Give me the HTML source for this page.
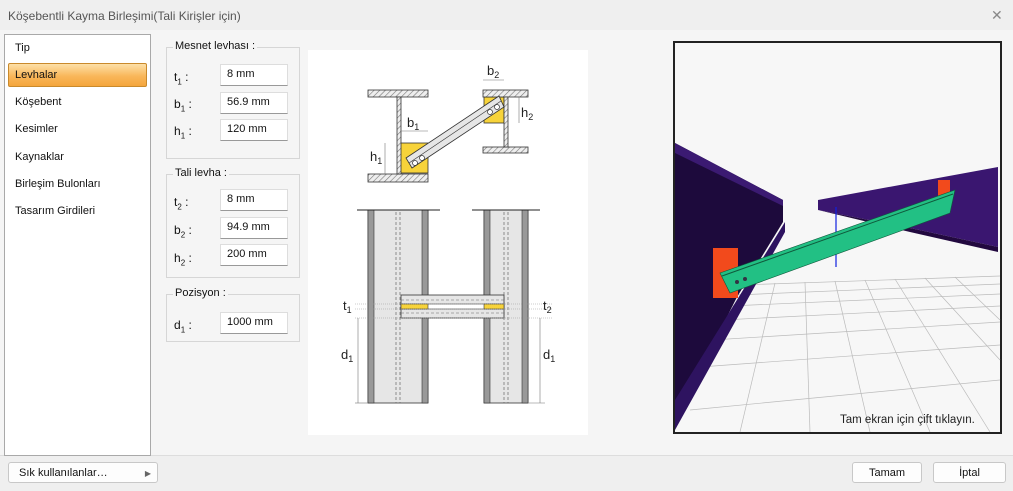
<!DOCTYPE html>
<html><head><meta charset="utf-8"><style>
*{box-sizing:border-box}
body{margin:0;width:1013px;height:491px;background:#efefef;font-family:"Liberation Sans",sans-serif;font-size:11px;color:#111;position:relative;overflow:hidden}
.a{position:absolute}
.title{left:8px;top:9px;font-size:12px;color:#555}
.list{left:4px;top:34px;width:147px;height:422px;background:#fff;border:1px solid #a9a9a9}
.it{position:absolute;left:10px;font-size:11px}
.sel{left:3px;top:28px;width:139px;height:24px;border:1px solid #c98a2c;border-radius:2px;background:linear-gradient(#fde0a8,#f9b75a 55%,#f4a53c)}
.grp{border:1px solid #d6d6d6;left:166px;width:134px}
.gl{position:absolute;left:6px;top:-8px;background:#f5f5f5;padding:0 2px;font-size:11px}
.inp{position:absolute;left:220px;width:68px;height:22px;background:#fff;border:1px solid #ddd;border-bottom:1px solid #999;padding:3px 0 0 6px;font-size:11px}
.lb{position:absolute;left:174px;font-size:12px}
.lb sub{font-size:8px}
.btn{position:absolute;top:462px;height:21px;background:#fdfdfd;border:1px solid #c8c8c8;border-radius:3px;font-size:11px;text-align:center;padding-top:4px}
</style></head><body>
<div class="a" style="left:0;top:30px;width:1013px;height:426px;background:#f5f5f5;border-bottom:1px solid #ddd"></div>
<div class="a title">Köşebentli Kayma Birleşimi(Tali Kirişler için)</div>
<div class="a" style="left:991px;top:7px;font-size:14px;color:#888">✕</div>
<div class="a list">
<div class="a sel"></div>
<div class="it" style="top:7px">Tip</div>
<div class="it" style="top:34px">Levhalar</div>
<div class="it" style="top:61px">Köşebent</div>
<div class="it" style="top:88px">Kesimler</div>
<div class="it" style="top:116px">Kaynaklar</div>
<div class="it" style="top:143px">Birleşim Bulonları</div>
<div class="it" style="top:170px">Tasarım Girdileri</div>
</div>
<div class="a grp" style="top:47px;height:112px"><span class="gl">Mesnet levhası :</span></div>
<div class="a grp" style="top:174px;height:104px"><span class="gl">Tali levha :</span></div>
<div class="a grp" style="top:294px;height:48px"><span class="gl">Pozisyon :</span></div>
<div class="lb" style="top:70px">t<sub>1</sub> :</div><div class="inp" style="top:64px">8 mm</div>
<div class="lb" style="top:97px">b<sub>1</sub> :</div><div class="inp" style="top:92px">56.9 mm</div>
<div class="lb" style="top:124px">h<sub>1</sub> :</div><div class="inp" style="top:119px">120 mm</div>
<div class="lb" style="top:195px">t<sub>2</sub> :</div><div class="inp" style="top:189px">8 mm</div>
<div class="lb" style="top:223px">b<sub>2</sub> :</div><div class="inp" style="top:217px">94.9 mm</div>
<div class="lb" style="top:251px">h<sub>2</sub> :</div><div class="inp" style="top:244px">200 mm</div>
<div class="lb" style="top:318px">d<sub>1</sub> :</div><div class="inp" style="top:312px">1000 mm</div>

<svg class="a" style="left:0;top:0" width="1013" height="491">
<defs><pattern id="h" width="4" height="4" patternUnits="userSpaceOnUse" patternTransform="rotate(45)"><rect width="4" height="4" fill="#eee"/><line x1="0" y1="0" x2="0" y2="4" stroke="#777" stroke-width="1.2"/></pattern></defs>
<rect x="308" y="50" width="280" height="385" fill="#fff"/>
<rect x="400" y="143" width="28" height="30" fill="#f7d33a" stroke="#333" stroke-width="0.8"/>
<rect x="484" y="97" width="20" height="26" fill="#f7d33a" stroke="#333" stroke-width="0.8"/>
<rect x="368" y="90" width="60" height="7" fill="url(#h)" stroke="#333" stroke-width="0.8"/>
<rect x="368" y="174" width="60" height="8" fill="url(#h)" stroke="#333" stroke-width="0.8"/>
<rect x="397" y="97" width="4" height="77" fill="url(#h)" stroke="#333" stroke-width="0.8"/>
<rect x="483" y="90" width="45" height="7" fill="url(#h)" stroke="#333" stroke-width="0.8"/>
<rect x="483" y="147" width="45" height="6" fill="url(#h)" stroke="#333" stroke-width="0.8"/>
<rect x="504" y="97" width="4" height="50" fill="url(#h)" stroke="#333" stroke-width="0.8"/>
<polygon points="406,158 499,96 504,107 412,168" fill="#e6e6e6" stroke="#333" stroke-width="0.8"/>
<line x1="409" y1="163" x2="501" y2="101" stroke="#333" stroke-width="0.6"/>
<g fill="#fff" stroke="#333" stroke-width="0.7"><circle cx="415" cy="163" r="2.5"/><circle cx="422" cy="158" r="2.5"/><circle cx="490" cy="112" r="2.5"/><circle cx="497" cy="107" r="2.5"/></g>
<g stroke="#777" stroke-width="0.6" fill="none"><line x1="401" y1="131" x2="428" y2="131"/><line x1="385" y1="143" x2="385" y2="174"/><line x1="483" y1="80" x2="504" y2="80"/><line x1="519" y1="97" x2="519" y2="123"/></g>
<g font-size="13" fill="#222"><text x="407" y="127">b<tspan font-size="9" dy="3">1</tspan></text><text x="370" y="161">h<tspan font-size="9" dy="3">1</tspan></text><text x="487" y="75">b<tspan font-size="9" dy="3">2</tspan></text><text x="521" y="117">h<tspan font-size="9" dy="3">2</tspan></text></g>
<rect x="368" y="210" width="60" height="193" fill="#e6e6e6" stroke="#333" stroke-width="0.8"/>
<rect x="368" y="210" width="6" height="193" fill="#999" stroke="#333" stroke-width="0.6"/>
<rect x="422" y="210" width="6" height="193" fill="#999" stroke="#333" stroke-width="0.6"/>
<rect x="484" y="210" width="44" height="193" fill="#e6e6e6" stroke="#333" stroke-width="0.8"/>
<rect x="484" y="210" width="6" height="193" fill="#999" stroke="#333" stroke-width="0.6"/>
<rect x="522" y="210" width="6" height="193" fill="#999" stroke="#333" stroke-width="0.6"/>
<line x1="357" y1="210" x2="440" y2="210" stroke="#222"/><line x1="472" y1="210" x2="540" y2="210" stroke="#222"/>
<g stroke="#666" stroke-dasharray="3,2" stroke-width="0.7"><line x1="396" y1="212" x2="396" y2="403"/><line x1="400" y1="212" x2="400" y2="403"/><line x1="504" y1="212" x2="504" y2="403"/><line x1="508" y1="212" x2="508" y2="403"/></g>
<rect x="401" y="295" width="103" height="23" fill="#e6e6e6" stroke="#333" stroke-width="0.8"/>
<rect x="401" y="304" width="103" height="5" fill="#fff" stroke="#333" stroke-width="0.6"/>
<rect x="401" y="304" width="27" height="5" fill="#f7d33a" stroke="#333" stroke-width="0.6"/>
<rect x="484" y="304" width="20" height="5" fill="#f7d33a" stroke="#333" stroke-width="0.6"/>
<g stroke="#666" stroke-dasharray="3,2" stroke-width="0.6"><line x1="401" y1="300" x2="504" y2="300"/><line x1="401" y1="313" x2="504" y2="313"/></g>
<g stroke="#999" stroke-width="0.5" stroke-dasharray="1,1"><line x1="355" y1="304" x2="552" y2="304"/><line x1="355" y1="309" x2="552" y2="309"/><line x1="355" y1="318" x2="552" y2="318"/></g>
<g stroke="#777" stroke-width="0.6"><line x1="358" y1="318" x2="358" y2="403"/><line x1="540" y1="318" x2="540" y2="403"/><line x1="355" y1="403" x2="368" y2="403"/><line x1="528" y1="403" x2="545" y2="403"/></g>
<g font-size="13" fill="#222"><text x="343" y="310">t<tspan font-size="9" dy="3">1</tspan></text><text x="543" y="310">t<tspan font-size="9" dy="3">2</tspan></text><text x="341" y="359">d<tspan font-size="9" dy="3">1</tspan></text><text x="543" y="359">d<tspan font-size="9" dy="3">1</tspan></text></g>
<rect x="674" y="42" width="327" height="391" fill="#f7f7f7" stroke="#222" stroke-width="2"/>
<g stroke="#bbb" stroke-width="0.7">
<line x1="740" y1="285" x2="1000" y2="276"/><line x1="735" y1="295" x2="1000" y2="284"/><line x1="730" y1="306" x2="1000" y2="294"/><line x1="722" y1="320" x2="1000" y2="306"/><line x1="712" y1="340" x2="1000" y2="322"/><line x1="700" y1="367" x2="1000" y2="345"/><line x1="690" y1="410" x2="1000" y2="380"/>
<line x1="775" y1="283" x2="740" y2="432"/><line x1="805" y1="282" x2="810" y2="432"/><line x1="835" y1="281" x2="870" y2="432"/><line x1="865" y1="280" x2="930" y2="432"/><line x1="895" y1="279" x2="990" y2="432"/><line x1="925" y1="278" x2="1000" y2="360"/><line x1="955" y1="277" x2="1000" y2="320"/>
</g>
<polygon points="675,143 783,200 783,222 737,297 675,420" fill="#1d0a3c"/>
<polygon points="675,143 783,200 783,206 675,153" fill="#3b1a72"/>
<polygon points="740,295 785,222 785,232 675,430 675,400" fill="#2e1360"/>
<polygon points="818,200 998,167 998,247 910,228 818,210" fill="#3a1670"/>
<polygon points="818,210 910,228 998,247 998,252 910,232" fill="#22093f"/>
<rect x="713" y="248" width="25" height="50" fill="#f24a1c"/>
<rect x="938" y="180" width="12" height="27" fill="#f24a1c"/>
<line x1="836" y1="207" x2="836" y2="267" stroke="#1020e0" stroke-width="1.2"/>
<polygon points="720,273 955,190 950,213 730,293" fill="#22c084" stroke="#0f5a3c" stroke-width="0.6"/>
<line x1="722" y1="276" x2="953" y2="194" stroke="#0f5a3c" stroke-width="1"/>
<circle cx="737" cy="282" r="2" fill="#334"/><circle cx="745" cy="279" r="2" fill="#334"/>
<text x="840" y="423" font-size="11.5" fill="#222">Tam ekran için çift tıklayın.</text>
</svg>

<div class="btn" style="left:8px;width:150px;text-align:left;padding-left:10px">Sık kullanılanlar… <span style="position:absolute;right:6px;font-size:8px;color:#666;top:6px">▶</span></div>
<div class="btn" style="left:852px;width:70px">Tamam</div>
<div class="btn" style="left:933px;width:73px">İptal</div>
</body></html>
